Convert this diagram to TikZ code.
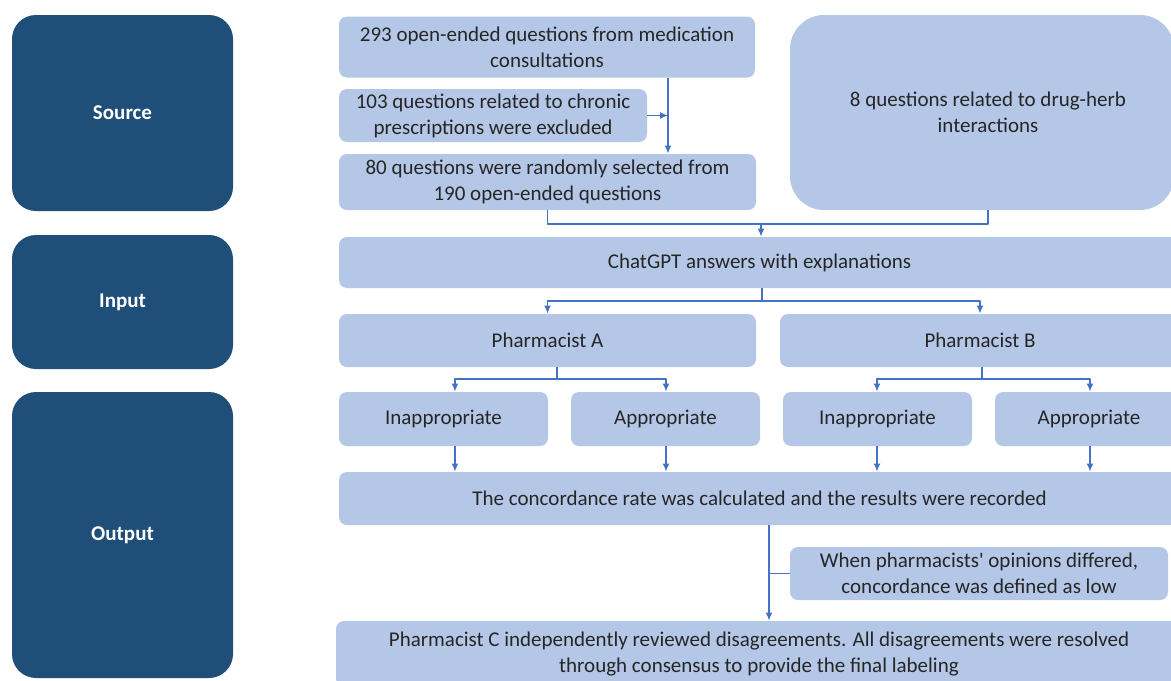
\documentclass[tikz,border=0pt]{standalone}
\usepackage{fontspec}
\setmainfont{Carlito}[Ligatures=TeXOff]
\usetikzlibrary{arrows.meta}
\definecolor{darkbox}{HTML}{1F4E79}
\definecolor{lightbox}{HTML}{B4C7E7}
\definecolor{linkcol}{HTML}{4472C4}
\definecolor{txtcol}{HTML}{262626}
\begin{document}
\begin{tikzpicture}[x=0.5pt,y=-0.5pt,font=\fontsize{10.5}{13}\selectfont, line join=round, >={Latex[length=4pt,width=3.5pt]},
	stage/.style={fill=darkbox,rounded corners=12pt,text=white,font=\fontsize{10.5}{13}\selectfont\bfseries,minimum width=110.5pt,inner sep=0pt},
	box/.style={fill=lightbox,rounded corners=4pt,text=txtcol,align=center,inner sep=0pt},
	link/.style={draw=linkcol,line width=0.75pt}]
		\useasboundingbox(0,0)rectangle(1171,680);
		% stages on the left
		\node[stage,minimum height=98pt](src)at(122.5,113){Source};
		\node[stage,minimum height=67pt](inp)at(122.5,302){Input};
		\node[stage,minimum height=143pt](out)at(122.5,535){Output};
		% source boxes
		\node[box,minimum width=208pt,minimum height=30.5pt](q293)at(547,47){293 open-ended questions from medication\\consultations};
		\node[box,minimum width=154pt,minimum height=26.5pt](q103)at(493,115.5){103 questions related to chronic\\prescriptions were excluded};
		\node[box,minimum width=208.5pt,minimum height=28pt](q80)at(547.5,182){80 questions were randomly selected from\\190 open-ended questions};
		\node[box,rounded corners=17pt,minimum width=192pt,minimum height=97.5pt,text depth=0pt](herb)at(982,112.5){\hspace*{6pt}8 questions related to drug-herb\\\hspace*{6pt}interactions\rule[-6pt]{0pt}{1pt}};
		% input
		\node[box,minimum width=420.5pt,minimum height=25.5pt](chat)at(759.5,262.5){ChatGPT answers with explanations};
		\node[box,minimum width=208.5pt,minimum height=26.5pt](phA)at(547.5,340.5){Pharmacist A};
		\node[box,minimum width=200pt,minimum height=26.5pt](phB)at(980,340.5){Pharmacist B};
		% output
		\node[box,minimum width=104.5pt,minimum height=27pt](inA)at(443.5,419){Inappropriate};
		\node[box,minimum width=94.5pt,minimum height=27pt](apA)at(665.5,419){Appropriate};
		\node[box,minimum width=94.5pt,minimum height=27pt](inB)at(877.5,419){Inappropriate};
		\node[box,minimum width=94pt,minimum height=27pt](apB)at(1089,419){Appropriate};
		\node[box,minimum width=420.5pt,minimum height=26.5pt](conc)at(759.5,498.5){The concordance rate was calculated and the results were recorded};
		\node[box,minimum width=189pt,minimum height=26.5pt](diff)at(979,573.5){When pharmacists' opinions differed,\\concordance was defined as low};
		\node[box,minimum width=423pt,minimum height=33pt](phC)at(759,654){Pharmacist C independently reviewed disagreements. All disagreements were resolved\\through consensus to provide the final labeling};
		% connectors
		\path(668,0)coordinate(xa)(988,0)coordinate(xh)(761,224)coordinate(m1)(762,301)coordinate(m2)(557,379)coordinate(m3)(982,379)coordinate(m4)(769,0)coordinate(xc);
		\draw[link,->](q293.south-|xa)--(q80.north-|xa);
		\draw[link,->](q103.east)--(q103.east-|xa);
		\draw[link](q80.south)|-(m1)-|(herb.south-|xh);
		\draw[link,->](m1)--(chat.north-|m1);
		\draw[link](chat.south-|m2)--(m2);
		\foreach \d in{phA,phB}
		\draw[link,->](m2)-|(\d.north);
		\draw[link](phA.south-|m3)--(m3);
		\draw[link](phB.south-|m4)--(m4);
		\foreach \p/\d/\x in{m3/inA/455,m3/apA/666,m4/inB/877,m4/apB/1090}{
			\draw[link,->](\p)-|(\d.north-|\x,0);
			\draw[link,->](\d.south-|\x,0)--(conc.north-|\x,0);
		}
		\draw[link,->](conc.south-|xc)--(phC.north-|xc);
		\draw[link](diff.west)--(diff.west-|xc);
\end{tikzpicture}
\end{document}
